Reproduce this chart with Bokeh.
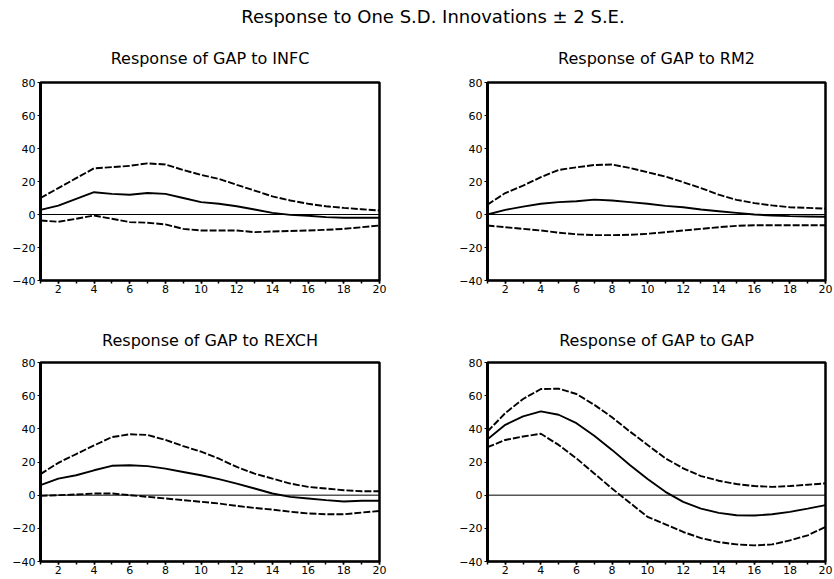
from bokeh.plotting import figure
from bokeh.layouts import column, row
from bokeh.models import Span, FixedTicker, Range1d
from bokeh.core.properties import value
from bokeh.embed import file_html
from bokeh.resources import INLINE

# ---------------- data ----------------
main_title = "Response to One S.D. Innovations \u00b1 2 S.E."
panel_titles = ["Response of GAP to INFC", "Response of GAP to RM2",
                "Response of GAP to REXCH", "Response of GAP to GAP"]
periods = list(range(1, 21))
x_tick_labels = [2, 4, 6, 8, 10, 12, 14, 16, 18, 20]
y_ticks = [-40, -20, 0, 20, 40, 60, 80]

infc_upper = [10, 16, 22, 28, 28.7, 29.5, 31, 30.3, 27, 24, 21.6, 18, 14.5, 11, 8.5, 6.5, 5, 4, 3.2, 2.4]
infc_mid = [2.8, 5.4, 9.5, 13.5, 12.5, 12, 13, 12.5, 10, 7.5, 6.5, 5, 3, 1, -0.2, -0.8, -1.6, -2, -2, -2]
infc_lower = [-3.6, -4.4, -2.6, -0.6, -2.6, -4.6, -5, -6, -8.7, -9.7, -9.7, -9.7, -10.7, -10.3, -10, -9.7, -9.3, -8.7, -7.7, -6.7]

rm2_upper = [6, 13, 17.5, 22.6, 27, 28.6, 30, 30.3, 28.2, 25.6, 23, 19.6, 16, 12, 8.9, 6.9, 5.5, 4.4, 4, 3.6]
rm2_mid = [0, 2.8, 4.8, 6.5, 7.5, 8, 9, 8.5, 7.5, 6.5, 5.2, 4.4, 3, 2, 1, 0, -0.6, -1, -1.2, -1.4]
rm2_lower = [-6.7, -7.7, -8.7, -9.7, -11, -12, -12.5, -12.5, -12.3, -11.7, -10.7, -9.7, -8.7, -7.7, -6.9, -6.5, -6.5, -6.5, -6.5, -6.5]

rexch_upper = [12.7, 19.5, 24.8, 30, 35, 36.7, 36.3, 33.3, 29.6, 26.2, 22, 17, 13, 10, 7, 5, 4, 3, 2.4, 2.4]
rexch_mid = [6, 10, 12, 15, 17.7, 18, 17.5, 16, 14, 12, 9.7, 7, 4, 1, -1, -2, -3, -3.8, -3.4, -3.4]
rexch_lower = [-0.4, 0, 0.4, 1, 1, 0, -1, -2, -3, -4, -5, -6.5, -7.7, -8.7, -10, -11, -11.5, -11.5, -10.5, -9.5]

gap_upper = [38.4, 49.5, 58, 64, 64.2, 61, 54.5, 47, 38.4, 30.3, 22.2, 16.2, 11.5, 8.7, 6.7, 5.5, 5, 5.5, 6.3, 7.1]
gap_mid = [33.7, 42.4, 47.5, 50.5, 48.5, 43.4, 35.8, 27.3, 18.2, 9.7, 2, -4, -8.1, -10.7, -12.1, -12.3, -11.5, -10.1, -8.1, -6]
gap_lower = [28.9, 33.3, 35.4, 37, 30.3, 22.2, 13.1, 4, -4.6, -13.1, -17.6, -22.2, -25.9, -28.3, -29.7, -30.3, -29.7, -27.3, -24.2, -19.2]

FONT = "DejaVu Sans"


def panel(title, lower, mid, upper, left, fw, right, top, fh, bottom, standoff):
    p = figure(frame_width=fw, frame_height=fh,
               min_border_left=left, min_border_right=right,
               min_border_top=top, min_border_bottom=bottom,
               x_range=Range1d(1, 20), y_range=Range1d(-40, 80),
               output_backend="svg", toolbar_location=None, tools="")
    p.title.text = title
    p.title.align = "center"
    p.title.text_font = FONT
    p.title.text_font_size = "16px"
    p.title.text_font_style = "normal"
    p.title.text_color = "black"
    p.title.standoff = standoff
    p.grid.visible = False
    p.outline_line_color = "black"
    p.outline_line_width = 2.5
    p.outline_line_alpha = 1.0
    p.background_fill_color = "white"
    p.border_fill_color = "white"

    xa = p.xaxis[0]
    xa.ticker = FixedTicker(ticks=x_tick_labels, minor_ticks=periods)
    xa.axis_line_width = 1.5
    xa.axis_line_color = "black"
    xa.major_tick_in = 0
    xa.major_tick_out = 3
    xa.minor_tick_in = 0
    xa.minor_tick_out = 3
    xa.major_tick_line_width = 1.5
    xa.minor_tick_line_width = 1.5
    xa.major_label_standoff = 1
    xa.major_label_text_font = FONT
    xa.major_label_text_font_size = "11px"
    xa.major_label_text_color = "black"

    ya = p.yaxis[0]
    ya.ticker = FixedTicker(ticks=y_ticks, minor_ticks=[])
    ya.axis_line_width = 3
    ya.axis_line_color = "black"
    ya.major_tick_in = 0
    ya.major_tick_out = 3
    ya.major_label_standoff = 2
    ya.major_label_text_font = FONT
    ya.major_label_text_font_size = "11px"
    ya.major_label_text_color = "black"

    p.add_layout(Span(location=0, dimension="width", line_color="black", line_width=1))
    p.line(periods, upper, line_color="black", line_width=1.9, line_dash="7 2")
    p.line(periods, mid, line_color="black", line_width=1.9)
    p.line(periods, lower, line_color="black", line_width=1.9, line_dash="7 2")
    return p


# overall title strip
t = figure(frame_width=785, frame_height=31, min_border_left=40, min_border_right=8,
           min_border_top=0, min_border_bottom=0,
           x_range=Range1d(0, 1), y_range=Range1d(0, 1),
           output_backend="svg", toolbar_location=None, tools="")
t.axis.visible = False
t.grid.visible = False
t.outline_line_color = None
t.text(x=[0.5], y=[0.5], text=[main_title], text_align="center", text_baseline="middle",
       text_font=value(FONT), text_font_size="18px", text_color="black")

p1 = panel(panel_titles[0], infc_lower, infc_mid, infc_upper, 40, 339, 41, 51, 198, 20, 30)
p2 = panel(panel_titles[1], rm2_lower, rm2_mid, rm2_upper, 67, 338, 8, 51, 198, 20, 30)
p3 = panel(panel_titles[2], rexch_lower, rexch_mid, rexch_upper, 40, 339, 41, 62, 199, 16, 26)
p4 = panel(panel_titles[3], gap_lower, gap_mid, gap_upper, 67, 338, 8, 62, 199, 16, 26)

layout = column(t, row(p1, p2), row(p3, p4))

open("out.html", "w").write(file_html(layout, INLINE, title=main_title))
